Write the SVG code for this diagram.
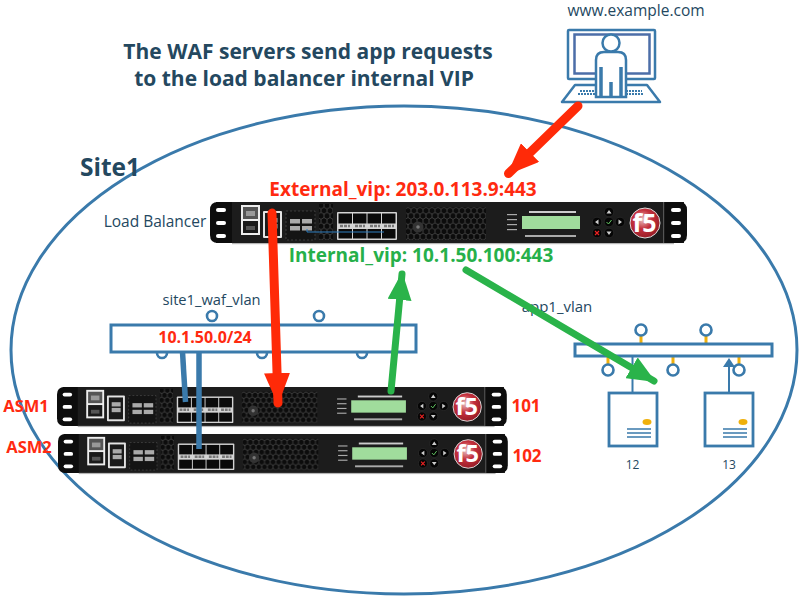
<svg xmlns="http://www.w3.org/2000/svg" width="800" height="600" viewBox="0 0 800 600">
<style>
text{font-family:"Open Sans","Noto Sans","DejaVu Sans",sans-serif}
.dk{fill:#24485f}
.b{font-weight:700}
.red{fill:#ff2a10;font-weight:700}
.grn{fill:#26b04a;font-weight:700}
.ln{fill:none;stroke:#3a7aab}
.vl{fill:#fff;stroke:#3a7aab;stroke-width:3}
.cir{fill:#fff;stroke:#3a7aab;stroke-width:2.6}
.stub{stroke:#efb00c;stroke-width:3}
.srv{fill:#fff;stroke:#3a7aab;stroke-width:2.8}
.lnk{stroke:#3a7aab;stroke-width:5.5;fill:none}
.k{fill:#0a0a0a}
.btn{fill:#050505;stroke:#333;stroke-width:.6}
.t{fill:#aaa}
.ear{fill:#fff}
</style>
<defs>
<radialGradient id="logo" cx=".42" cy=".38" r=".7">
<stop offset="0" stop-color="#e8c4c4"/><stop offset=".45" stop-color="#c4303c"/><stop offset="1" stop-color="#8e1822"/>
</radialGradient>
<pattern id="hex" width="6" height="10.4" patternUnits="userSpaceOnUse">
<rect width="6" height="10.4" fill="#0c0c0c"/>
<path d="M3 0L6 1.73V5.2L3 6.93L0 5.2V1.73ZM3 6.93V10.4" fill="none" stroke="#4a4a4a" stroke-width=".8"/>
</pattern>
<marker id="hr" markerUnits="userSpaceOnUse" viewBox="0 0 32 26" refX="30" refY="13" markerWidth="32" markerHeight="26" orient="auto"><path d="M0 0L32 13L0 26Z" fill="#ff2a08"/></marker>
<marker id="hg" markerUnits="userSpaceOnUse" viewBox="0 0 28 24" refX="26" refY="12" markerWidth="28" markerHeight="24" orient="auto"><path d="M0 0L28 12L0 24Z" fill="#2ab34a"/></marker>
<g id="port8">
<rect width="60" height="28" rx="1" fill="#d4d4d4"/>
<rect x="1.500" y="1.500" width="13.500" height="10" class="k"/><rect x="16" y="1.500" width="13.500" height="10" class="k"/><rect x="30.500" y="1.500" width="13.500" height="10" class="k"/><rect x="45" y="1.500" width="13.500" height="10" class="k"/>
<rect x="1.500" y="17" width="13.500" height="9.500" class="k"/><rect x="16" y="17" width="13.500" height="9.500" class="k"/><rect x="30.500" y="17" width="13.500" height="9.500" class="k"/><rect x="45" y="17" width="13.500" height="9.500" class="k"/>
<path d="M3 14H13M18 14H28M33 14H43M47 14H57" stroke="#777" stroke-width="2.500" stroke-dasharray="3 1"/>
</g>
<g id="chassis">
<rect x="6" y="0" width="468" height="41" fill="#1c1c1c"/>
<rect x="22" y="41" width="442" height="1.200" fill="#b5b5b5"/>
<path d="M22 0H8Q0 0 0 8V33Q0 41 8 41H22Z" fill="#0d0d0d"/>
<path d="M453 0H469Q477 0 477 8V33Q477 41 469 41H453Z" fill="#0d0d0d"/>
<rect x="453" y="0" width="1.200" height="41" fill="#555"/>
<rect x="6" y="6" width="10" height="4" rx="2" class="ear"/><rect x="6" y="19" width="10" height="4" rx="2" class="ear"/><rect x="6" y="32" width="10" height="4" rx="2" class="ear"/>
<rect x="461" y="6" width="10" height="4" rx="2" class="ear"/><rect x="461" y="19" width="10" height="4" rx="2" class="ear"/><rect x="461" y="32" width="10" height="4" rx="2" class="ear"/>
<rect x="31" y="3" width="19" height="30" fill="#eee"/>
<rect x="33" y="5" width="15" height="12" fill="#555"/><rect x="36" y="9" width="9" height="5" fill="#999"/>
<rect x="33" y="19" width="15" height="12" fill="#1a1a1a"/><rect x="36" y="24" width="9" height="4" fill="#555"/>
<rect x="53" y="9" width="19" height="27" rx="1" fill="#e4e4e4"/><rect x="55" y="11" width="15" height="23" fill="#1a1a1a"/>
<rect x="58" y="16" width="9.500" height="4.500" fill="#aaa"/><rect x="58" y="22" width="9.500" height="4.500" fill="#aaa"/>
<rect x="76" y="9" width="29" height="29" fill="#141414" stroke="#555" stroke-width=".6" stroke-dasharray="2 2"/>
<rect x="80" y="17" width="10" height="4.500" fill="#aaa"/><rect x="92" y="17" width="10" height="4.500" fill="#aaa"/><rect x="80" y="24" width="10" height="4.500" fill="#aaa"/><rect x="92" y="24" width="10" height="4.500" fill="#aaa"/>
<rect x="109" y="2" width="14" height="36" fill="url(#hex)"/>
<use href="#port8" x="127" y="10"/>
<rect x="196" y="5" width="80" height="33" fill="url(#hex)"/>
<circle cx="208" cy="25" r="5.500" fill="#333"/><circle cx="208" cy="25" r="1.800" fill="#777"/>
<rect x="297" y="12" width="10" height="1.200" class="t"/><rect x="297" y="17" width="10" height="1.200" class="t"/><rect x="297" y="22" width="10" height="1.200" class="t"/><rect x="297" y="27" width="10" height="1.200" class="t"/>
<rect x="319" y="9" width="47" height="2" fill="#ccc"/>
<rect x="312" y="14" width="58" height="13" fill="#a0dc9c"/>
<rect x="315" y="33" width="51" height="2" fill="#aaa"/>
<circle cx="399" cy="10" r="4.800" class="btn"/><circle cx="387" cy="20" r="4.800" class="btn"/><circle cx="399" cy="20" r="4.800" class="btn"/><circle cx="410" cy="20" r="4.800" class="btn"/><circle cx="387" cy="31" r="4.800" class="btn"/><circle cx="399" cy="31" r="4.800" class="btn"/>
<path d="M396.500 20L398.500 22L401.500 18" fill="none" stroke="#6c6" stroke-width="1"/>
<path d="M385 29L389 33M389 29L385 33" stroke="#e22" stroke-width="1.200"/>
<path d="M399 8L396.500 11.500H401.500ZM399 33L396.500 29.500H401.500ZM385 20L388.500 17.500V22.500ZM412 20L408.500 17.500V22.500Z" fill="#ccc"/>
<circle cx="435" cy="21" r="15" fill="url(#logo)" stroke="#ddd" stroke-width="1"/>
<text x="434.500" y="30" text-anchor="middle" font-size="25" font-weight="700" fill="#fff">f5</text>
</g>
</defs>
<g id="site1">
<ellipse class="ln" cx="404" cy="350" rx="393" ry="244" stroke-width="3"/>
<text x="80" y="176" class="dk b" font-size="24.500">Site1</text>
</g>
<text x="308" y="59" class="dk b" font-size="21" text-anchor="middle">The WAF servers send app requests</text>
<text x="304" y="86" class="dk b" font-size="21" text-anchor="middle">to the load balancer internal VIP</text>
<g id="client">
<text x="636" y="16" class="dk" font-size="15.500" text-anchor="middle">www.example.com</text>
<rect x="568" y="30" width="87" height="49" rx="1" class="ln" fill="#fff" stroke-width="2.500"/>
<rect x="574.500" y="34.500" width="75" height="39" fill="#fff" stroke="#4c6ea8" stroke-width="2.500"/>
<path d="M575 85H647L660 102H562Z" fill="#fff" stroke="#3a7aab" stroke-width="2.500" stroke-linejoin="round"/>
<path d="M580 91H596M578 94H596M626 91H642M626 94H644" stroke="#3a7aab" stroke-width="2" stroke-dasharray="2 1" fill="none"/>
<path d="M596 97V60Q596 52 604 52H618Q626 52 626 60V97Z" fill="#fff" stroke="#3a7aab" stroke-width="2.500"/>
<path d="M601 67V97M621 67V97M611 82V96" stroke="#3a7aab" stroke-width="3.500" fill="none"/>
<circle cx="611" cy="43" r="8.500" fill="#fff" stroke="#3a7aab" stroke-width="2.500"/>
</g>
<g id="site1_waf_vlan">
<text x="211.500" y="305" class="dk" font-size="14.700" text-anchor="middle">site1_waf_vlan</text>
<circle class="cir" cx="212" cy="316" r="5"/><circle class="cir" cx="319" cy="316" r="5"/>
<circle class="cir" cx="162" cy="353" r="5"/><circle class="cir" cx="262" cy="353" r="5"/><circle class="cir" cx="362" cy="353" r="5"/>
<rect class="vl" x="111" y="325" width="305" height="27"/>
<text x="205" y="343" class="red" font-size="16" text-anchor="middle">10.1.50.0/24</text>
</g>
<g id="app1_vlan">
<text x="557" y="312" class="dk" font-size="15" text-anchor="middle">app1_vlan</text>
<path class="stub" d="M641 335V343M706 335V343M608 357V364M673 357V364M739 357V364"/>
<circle class="cir" cx="641" cy="330" r="5.500"/><circle class="cir" cx="706" cy="330" r="5.500"/>
<circle class="cir" cx="608" cy="370" r="5.500"/><circle class="cir" cx="673" cy="370" r="5.500"/><circle class="cir" cx="739" cy="370" r="5.500"/>
<rect class="vl" x="575" y="344" width="197" height="12"/>
</g>
<g id="load_balancer">
<text x="155" y="227" class="dk" font-size="15.500" text-anchor="middle">Load Balancer</text>
<use href="#chassis" transform="translate(210 202)"/>
<path d="M307 229V232H384" fill="none" stroke="#2f7fc0" stroke-width="1"/>
</g>
<g id="asm1">
<use href="#chassis" transform="translate(57 387) scale(.943 .95)"/>
<text x="26" y="412" class="red" font-size="16.500" text-anchor="middle">ASM1</text>
<text x="526" y="412" class="red" font-size="17" text-anchor="middle">101</text>
</g>
<g id="asm2">
<use href="#chassis" transform="translate(58 434) scale(.943 .95)"/>
<text x="29" y="453" class="red" font-size="16.500" text-anchor="middle">ASM2</text>
<text x="527" y="462" class="red" font-size="17" text-anchor="middle">102</text>
</g>
<g id="server12">
<rect class="srv" x="609" y="393" width="48" height="53"/>
<ellipse cx="647" cy="422" rx="4.500" ry="3" fill="#efb00c"/>
<path d="M627 429H651M627 433H651M627 437H651" stroke="#3a7aab" stroke-width="1.400"/>
<text x="632.500" y="469" class="dk" font-size="12" text-anchor="middle">12</text>
</g>
<g id="server13">
<rect class="srv" x="705" y="393" width="48" height="53"/>
<ellipse cx="743" cy="422" rx="4.500" ry="3" fill="#efb00c"/>
<path d="M723 429H747M723 433H747M723 437H747" stroke="#3a7aab" stroke-width="1.400"/>
<text x="729" y="469" class="dk" font-size="12" text-anchor="middle">13</text>
</g>
<g id="connectors">
<path class="lnk" d="M182.500 352L185.500 402"/>
<path class="lnk" d="M199 352V449"/>
<path class="ln" stroke-width="2" d="M632.500 357V393"/>
<path class="ln" stroke-width="2" d="M729 393V364"/>
<path d="M729 358L723 367H735Z" fill="#3a7aab"/>
<path d="M578 106L508.500 173.500" fill="none" stroke="#ff2a08" stroke-width="9" stroke-linecap="round" marker-end="url(#hr)"/>
<path d="M272 213L278 403" fill="none" stroke="#ff2a08" stroke-width="9" stroke-linecap="round" marker-end="url(#hr)"/>
<path d="M391 391L402 274" fill="none" stroke="#2ab34a" stroke-width="7" stroke-linecap="round" marker-end="url(#hg)"/>
<path d="M466 270L654 381" fill="none" stroke="#2ab34a" stroke-width="7" stroke-linecap="round" marker-end="url(#hg)"/>
</g>
<text x="403" y="196" class="red" font-size="19" text-anchor="middle">External_vip: 203.0.113.9:443</text>
<text x="421" y="262" class="grn" font-size="19" text-anchor="middle">Internal_vip: 10.1.50.100:443</text>
</svg>
